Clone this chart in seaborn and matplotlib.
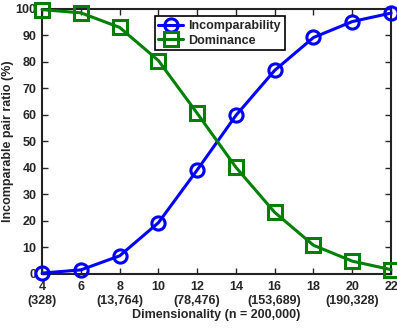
import pandas as pd
import numpy as np
import matplotlib
matplotlib.use('Agg')
import matplotlib.pyplot as plt
import seaborn as sns

dims = [4, 6, 8, 10, 12, 14, 16, 18, 20, 22]
incomparability = [0.3, 1.5, 6.8, 19.3, 39.2, 59.8, 76.8, 89.2, 95.2, 98.4]
dominance = [99.7, 98.5, 93.0, 80.5, 60.6, 40.2, 23.2, 10.8, 4.8, 1.6]
skyline = {4: '(328)', 8: '(13,764)', 12: '(78,476)', 16: '(153,689)', 20: '(190,328)'}
yticks = [0, 10, 20, 30, 40, 50, 60, 70, 80, 90, 100]
colors = {'Incomparability': '#0000ff', 'Dominance': '#008000'}

sns.set_style('ticks')
plt.rcParams['font.family'] = ['Liberation Sans', 'DejaVu Sans']
plt.rcParams['font.weight'] = 'bold'
plt.rcParams['xtick.direction'] = 'in'
plt.rcParams['ytick.direction'] = 'in'

df = pd.DataFrame({'dim': dims * 2,
                   'ratio': incomparability + dominance,
                   'kind': ['Incomparability'] * len(dims) + ['Dominance'] * len(dims)})

fig = plt.figure(figsize=(3.97, 3.28), dpi=100)
ax = fig.add_axes([0.106, 0.165, 0.879, 0.808])

sns.lineplot(data=df, x='dim', y='ratio', hue='kind', style='kind',
             palette=colors, markers={'Incomparability': 'o', 'Dominance': 's'},
             dashes=False, linewidth=2.2, markersize=9.5, ax=ax, clip_on=False, zorder=3)
for line in ax.lines:
    c = line.get_color()
    line.set_markerfacecolor('none')
    line.set_markeredgecolor(c)
    line.set_markeredgewidth(2.2)

ax.set_xlim(4, 22)
ax.set_ylim(0, 100)
ax.set_xticks(dims)
ax.set_xticklabels([str(d) + ('\n' + skyline[d] if d in skyline else '') for d in dims])
ax.set_yticks(yticks)
ax.tick_params(labelsize=9, top=True, right=True, length=4, width=1)
ax.tick_params(axis='x', pad=5)
ax.tick_params(axis='y', pad=4)
for lab in ax.get_xticklabels() + ax.get_yticklabels():
    lab.set_fontweight('bold')
for s in ax.spines.values():
    s.set_visible(True)
    s.set_linewidth(1.5)
    s.set_color('#222222')

ax.set_xlabel('Dimensionality (n = 200,000)', fontsize=9, fontweight='bold', labelpad=2)
ax.set_ylabel('Incomparable pair ratio (%)', fontsize=9, fontweight='bold', labelpad=1)

leg = ax.legend(loc='upper center', bbox_to_anchor=(0.509, 0.995), fontsize=9,
                frameon=True, fancybox=False, edgecolor='black', framealpha=1,
                handlelength=2.0, borderpad=0.3, labelspacing=0.2, handletextpad=0.4)
leg.get_frame().set_linewidth(1.2)
for t in leg.get_texts():
    t.set_fontweight('bold')
for h in leg.get_lines():
    h.set_markerfacecolor('none')
    h.set_markeredgecolor(h.get_color())
    h.set_markeredgewidth(2.2)

fig.savefig('out.png', dpi=100)
